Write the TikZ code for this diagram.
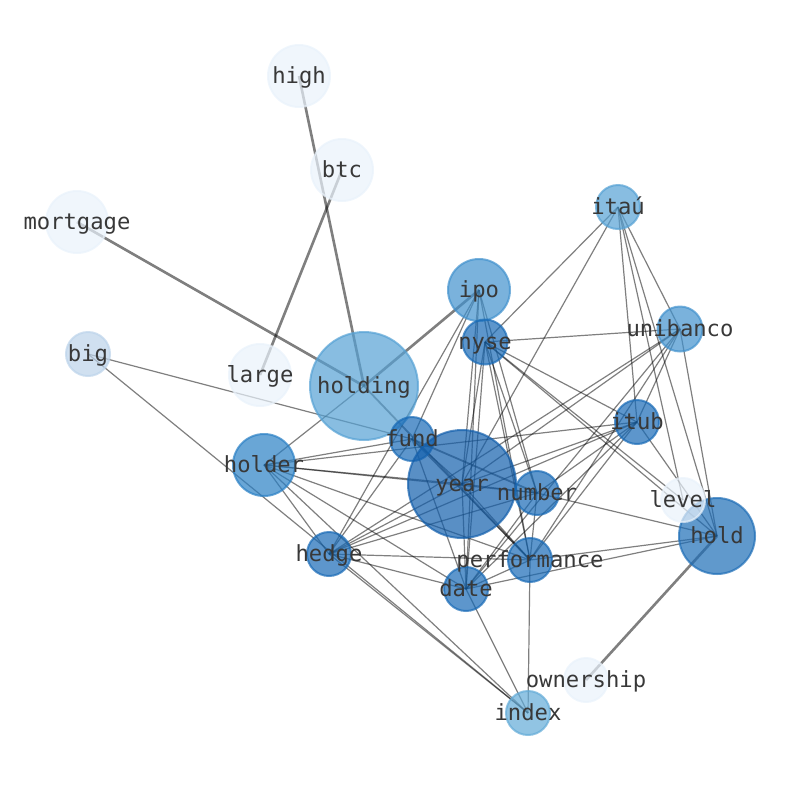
\documentclass[tikz,border=0pt]{standalone}
\usepackage{fontspec}
\newfontfamily\labelfont{DejaVu Sans Mono}
\definecolor{cYear}{RGB}{19,95,172}
\definecolor{cMid}{RGB}{24,106,182}
\definecolor{cHold}{RGB}{29,109,182}
\definecolor{cHolder}{RGB}{42,128,197}
\definecolor{cIpo}{RGB}{65,145,205}
\definecolor{cItau}{RGB}{85,161,212}
\definecolor{cIndex}{RGB}{99,171,215}
\definecolor{cBig}{RGB}{188,211,234}
\definecolor{cPale}{RGB}{233,242,251}
\tikzset{
  vtx/.style={circle, inner sep=0pt, line width=2pt, fill opacity=0.7, draw opacity=0.7},
  lnk/.style={draw=black, draw opacity=0.5, line width=1.2pt},
  midlnk/.style={draw=black, draw opacity=0.5, line width=1.8pt},
  heavy/.style={draw=black, draw opacity=0.5, line width=2.6pt},
  lbl/.style={font=\labelfont\fontsize{22.2}{26}\selectfont, text=black!78, inner sep=0pt, text height=18pt, text depth=3pt, anchor=center}
}
\begin{document}
\begin{tikzpicture}[x=1pt,y=-1pt]
\useasboundingbox (0,0) rectangle (794,790);
% node positions
\coordinate (high) at (299,76);
\coordinate (btc) at (342,170);
\coordinate (mortgage) at (77,222);
\coordinate (big) at (88,354);
\coordinate (large) at (260,375);
\coordinate (holding) at (364,386);
\coordinate (ipo) at (479,290);
\coordinate (nyse) at (485,342);
\coordinate (itau) at (618,207);
\coordinate (unibanco) at (680,329);
\coordinate (itub) at (637,422);
\coordinate (fund) at (412,439);
\coordinate (holder) at (264,465);
\coordinate (year) at (462,484);
\coordinate (number) at (537,493);
\coordinate (level) at (683,500);
\coordinate (hold) at (717,536);
\coordinate (hedge) at (329,554);
\coordinate (performance) at (530,560);
\coordinate (date) at (466,589);
\coordinate (ownership) at (586,680);
\coordinate (index) at (528,713);
% heavy edges
\draw[heavy] (high) -- (holding);
\draw[heavy] (btc) -- (large);
\draw[heavy] (mortgage) -- (holding);
\draw[heavy] (holding) -- (ipo);
\draw[heavy] (hold) -- (ownership);
\draw[midlnk] (holding) -- (performance);
\draw[midlnk] (fund) -- (number);
% thin edges
\foreach \a/\b in {big/fund, big/index,
  holder/holding, holder/fund, holder/year, holder/number, holder/performance, holder/date, holder/hedge, holder/index,
  hedge/fund, hedge/ipo, hedge/year, hedge/number, hedge/itub, hedge/unibanco, hedge/performance, hedge/date, hedge/index,
  ipo/year, ipo/date, ipo/number, ipo/performance, ipo/fund,
  nyse/year, nyse/number, nyse/performance, nyse/date, nyse/itub, nyse/unibanco, nyse/itau, nyse/hold, nyse/level,
  itau/year, itau/itub, itau/level, itau/hold, itau/unibanco,
  unibanco/year, unibanco/date, unibanco/performance, unibanco/itub, unibanco/hold,
  itub/holder, itub/year, itub/number, itub/date, itub/performance, itub/hold,
  fund/year, fund/performance, fund/date,
  year/number, year/performance, year/date,
  number/performance, number/date, number/hold,
  performance/date, performance/hold, performance/index,
  date/hold, date/index}
  \draw[lnk] (\a) -- (\b);
% node circles
\node[vtx, minimum size=62pt, fill=cPale, draw=cPale] (n-high) at (high) {};
\node[vtx, minimum size=62pt, fill=cPale, draw=cPale] (n-btc) at (btc) {};
\node[vtx, minimum size=62pt, fill=cPale, draw=cPale] (n-mortgage) at (mortgage) {};
\node[vtx, minimum size=44pt, fill=cBig, draw=cBig] (n-big) at (big) {};
\node[vtx, minimum size=62pt, fill=cPale, draw=cPale] (n-large) at (large) {};
\node[vtx, minimum size=108pt, fill=cItau, draw=cItau] (n-holding) at (holding) {};
\node[vtx, minimum size=62pt, fill=cIpo, draw=cIpo] (n-ipo) at (ipo) {};
\node[vtx, minimum size=45pt, fill=cMid, draw=cMid] (n-nyse) at (nyse) {};
\node[vtx, minimum size=44pt, fill=cItau, draw=cItau] (n-itau) at (itau) {};
\node[vtx, minimum size=45pt, fill=cIpo, draw=cIpo] (n-unibanco) at (unibanco) {};
\node[vtx, minimum size=44pt, fill=cMid, draw=cMid] (n-itub) at (itub) {};
\node[vtx, minimum size=44pt, fill=cMid, draw=cMid] (n-fund) at (fund) {};
\node[vtx, minimum size=62pt, fill=cHolder, draw=cHolder] (n-holder) at (holder) {};
\node[vtx, minimum size=108pt, fill=cYear, draw=cYear] (n-year) at (year) {};
\node[vtx, minimum size=44pt, fill=cMid, draw=cMid] (n-number) at (number) {};
\node[vtx, minimum size=76pt, fill=cHold, draw=cHold] (n-hold) at (hold) {};
\node[vtx, minimum size=44pt, fill=cPale, draw=cPale] (n-level) at (level) {};
\node[vtx, minimum size=44pt, fill=cMid, draw=cMid] (n-hedge) at (hedge) {};
\node[vtx, minimum size=44pt, fill=cMid, draw=cMid] (n-performance) at (performance) {};
\node[vtx, minimum size=44pt, fill=cMid, draw=cMid] (n-date) at (date) {};
\node[vtx, minimum size=44pt, fill=cPale, draw=cPale] (n-ownership) at (ownership) {};
\node[vtx, minimum size=44pt, fill=cIndex, draw=cIndex] (n-index) at (index) {};
% labels
\foreach \n/\t in {high/high, btc/btc, mortgage/mortgage, big/big, large/large, holding/holding,
  ipo/ipo, nyse/nyse, itau/itaú, unibanco/unibanco, itub/itub, fund/fund, holder/holder,
  year/year, number/number, level/level, hold/hold, hedge/hedge, performance/performance,
  date/date, ownership/ownership, index/index}
  \node[lbl] (l-\n) at (\n) {\t};
\end{tikzpicture}
\end{document}
